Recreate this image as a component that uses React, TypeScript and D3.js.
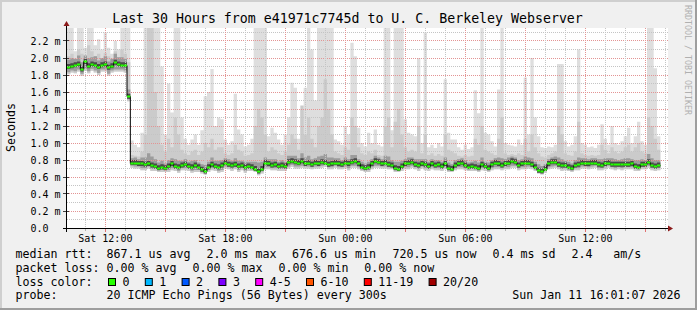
import React from "react";
import * as d3 from "d3";

const TITLE = "Last 30 Hours from e41971c7745d to U. C. Berkeley Webserver";
const WATERMARK = "RRDTOOL / TOBI OETIKER";
const Y_UNIT = "Seconds";

const START = Date.UTC(2026, 0, 10, 10, 5);
const END = Date.UTC(2026, 0, 11, 16, 5);
const STEP_MS = 10 * 60 * 1000;

// median rtt (ms), one value per 10 minutes
const median = [
  1.90, 1.91, 1.92, 1.93, 1.87, 1.96, 1.91, 1.93, 1.92, 1.90, 1.92, 1.93, 1.89, 1.91, 1.95, 1.93, 1.92, 1.92, 1.55,
  0.77, 0.77, 0.76, 0.76, 0.75, 0.76, 0.74, 0.73, 0.71, 0.72, 0.71, 0.73, 0.76, 0.73, 0.72, 0.74, 0.75, 0.73, 0.72, 0.74, 0.72, 0.69, 0.67, 0.72, 0.75, 0.73, 0.72,
  0.74, 0.77, 0.75, 0.74, 0.75, 0.73, 0.74, 0.72, 0.73, 0.72, 0.70, 0.67, 0.70, 0.77, 0.76, 0.74, 0.75, 0.73, 0.74, 0.73, 0.78, 0.79, 0.78, 0.77, 0.79, 0.76, 0.77, 0.75, 0.77, 0.76, 0.78, 0.77, 0.75, 0.76, 0.77, 0.76, 0.75, 0.77, 0.76, 0.78, 0.79, 0.76, 0.72, 0.71, 0.72,
  0.76, 0.79, 0.78, 0.76, 0.77, 0.75, 0.74, 0.71, 0.70, 0.73, 0.76, 0.77, 0.78, 0.75, 0.74, 0.76, 0.75, 0.73, 0.76, 0.74, 0.75, 0.73, 0.76, 0.71, 0.70, 0.74, 0.76, 0.77, 0.74, 0.72, 0.73, 0.72, 0.71, 0.75, 0.73, 0.71, 0.75, 0.77, 0.76, 0.74, 0.76, 0.77, 0.79, 0.78, 0.74,
  0.76, 0.77, 0.77, 0.75, 0.72, 0.68, 0.67, 0.70, 0.76, 0.78, 0.78, 0.75, 0.74, 0.74, 0.72, 0.71, 0.74, 0.75, 0.77, 0.76, 0.76, 0.77, 0.77, 0.75, 0.74, 0.76, 0.77, 0.75, 0.75, 0.75, 0.75, 0.75, 0.75, 0.76, 0.73, 0.72, 0.75, 0.75, 0.78, 0.74, 0.73, 0.74,
];

// slowest ping of each round (ms)
const pingMax = [
  2.40, 2.40, 2.08, 2.40, 2.40, 2.12, 2.40, 2.40, 2.15, 2.22, 2.10, 2.30, 2.12, 2.05, 2.20, 2.10, 2.40, 2.40, 2.40,
  1.03, 0.98, 0.95, 1.12, 2.40, 2.40, 2.40, 2.40, 2.40, 1.90, 1.10, 1.70, 1.36, 2.40, 2.40, 1.30, 1.05, 0.98, 1.04, 1.10, 0.98, 1.15, 1.55, 1.60, 1.87, 1.20, 1.30,
  1.28, 1.04, 0.98, 1.02, 1.58, 1.16, 1.10, 0.96, 0.98, 1.05, 2.40, 2.40, 2.40, 2.40, 1.08, 1.18, 1.12, 1.04, 0.98, 1.10, 1.30, 1.71, 1.65, 1.05, 1.40, 1.65, 2.40, 2.10, 1.50, 2.40, 2.40, 2.40, 2.40, 2.40, 1.04, 1.02, 0.98, 1.20, 1.10, 2.18, 2.02, 1.18, 1.00, 0.96, 1.12,
  1.00, 1.16, 0.98, 0.96, 2.40, 2.40, 1.15, 2.40, 2.40, 2.40, 1.28, 1.12, 1.10, 1.08, 2.00, 1.00, 2.30, 0.95, 0.98, 0.94, 1.00, 0.96, 1.75, 1.12, 1.04, 1.04, 0.95, 0.92, 0.98, 0.93, 0.95, 1.62, 1.35, 2.40, 1.12, 1.10, 1.02, 0.96, 1.63, 2.40, 1.00, 0.98, 0.97, 0.96, 1.04,
  0.98, 1.77, 1.10, 2.00, 1.30, 1.08, 0.95, 0.94, 0.96, 0.95, 0.98, 1.93, 1.93, 1.02, 0.96, 0.98, 1.08, 2.10, 1.00, 0.98, 0.95, 0.96, 0.94, 0.98, 1.22, 1.05, 0.98, 1.20, 1.00, 0.98, 1.02, 1.08, 1.18, 1.00, 1.08, 1.25, 1.02, 0.98, 2.40, 2.40, 1.88, 1.08,
];

// 18th of 20 pings (ms)
const pingHigh = [
  2.02, 2.05, 1.98, 2.10, 2.05, 2.00, 2.15, 2.08, 2.02, 2.05, 2.00, 2.06, 2.02, 1.98, 2.08, 2.00, 2.10, 2.05, 1.95,
  0.86, 0.85, 0.84, 0.90, 1.10, 2.40, 2.40, 1.60, 1.20, 0.98, 0.90, 1.05, 0.95, 1.30, 1.10, 0.92, 0.88, 0.86, 0.90, 0.92, 0.86, 0.90, 1.00, 0.95, 1.05, 0.92, 0.95,
  0.95, 0.88, 0.86, 0.88, 0.98, 0.92, 0.90, 0.85, 0.86, 0.88, 1.20, 1.40, 1.30, 1.10, 0.90, 0.95, 0.92, 0.88, 0.86, 0.90, 0.98, 1.10, 1.05, 0.92, 1.44, 1.10, 1.30, 1.05, 0.95, 1.20, 1.30, 1.75, 1.40, 1.10, 0.90, 0.88, 0.86, 0.95, 0.92, 1.30, 1.20, 0.95, 0.88, 0.86, 0.90,
  0.88, 0.92, 0.86, 0.85, 1.20, 1.30, 0.95, 1.25, 1.40, 1.10, 0.95, 0.90, 0.92, 0.90, 1.20, 0.88, 1.10, 0.86, 0.88, 0.85, 0.87, 0.85, 1.10, 0.92, 0.90, 0.88, 0.85, 0.84, 0.86, 0.84, 0.85, 1.05, 0.98, 1.20, 0.92, 0.90, 0.88, 0.86, 1.05, 1.30, 0.88, 0.86, 0.87, 0.86, 0.88,
  0.86, 1.05, 0.90, 1.10, 0.95, 0.88, 0.84, 0.83, 0.86, 0.88, 0.90, 1.20, 1.10, 0.88, 0.86, 0.85, 0.90, 1.25, 0.88, 0.86, 0.85, 0.86, 0.85, 0.86, 0.98, 0.92, 0.88, 0.95, 0.90, 0.88, 0.90, 0.95, 0.98, 0.90, 0.95, 1.00, 0.90, 0.88, 1.30, 1.20, 1.05, 0.92,
];

// spread of the dense smoke above the median (ms)
const darkAbove = [
  0.08, 0.09, 0.07, 0.10, 0.08, 0.07, 0.09, 0.08, 0.10, 0.07, 0.08, 0.09, 0.07, 0.08, 0.10, 0.08, 0.09, 0.07, 0.08,
  0.05, 0.06, 0.05, 0.07, 0.08, 0.12, 0.10, 0.08, 0.06, 0.07,
  0.05, 0.07, 0.06, 0.08, 0.07, 0.05, 0.06, 0.05, 0.07, 0.06,
  0.05, 0.06, 0.07, 0.06, 0.08, 0.06, 0.07, 0.06, 0.05, 0.06,
  0.05, 0.07, 0.06, 0.05, 0.06, 0.05, 0.06, 0.08, 0.10, 0.08,
  0.06, 0.05, 0.07, 0.06, 0.05, 0.06, 0.05, 0.07, 0.06, 0.07,
  0.05, 0.09, 0.07, 0.08, 0.06, 0.05, 0.08, 0.07, 0.10, 0.08,
  0.07, 0.05, 0.06, 0.05, 0.06, 0.05, 0.08, 0.07, 0.05, 0.06,
  0.05, 0.06, 0.05, 0.06, 0.05, 0.05, 0.08, 0.09, 0.06, 0.07,
  0.08, 0.06, 0.05, 0.06, 0.05, 0.06, 0.07, 0.05, 0.06, 0.05,
  0.05, 0.06, 0.05, 0.05, 0.07, 0.06, 0.05, 0.06, 0.05, 0.05,
  0.06, 0.05, 0.05, 0.07, 0.06, 0.08, 0.05, 0.06, 0.05, 0.05,
  0.07, 0.08, 0.05, 0.06, 0.05, 0.05, 0.06, 0.05, 0.07, 0.06,
  0.07, 0.06, 0.07, 0.06, 0.05, 0.05, 0.05, 0.06, 0.08, 0.07,
  0.05, 0.06, 0.05, 0.06, 0.08, 0.05, 0.06, 0.05, 0.05, 0.05,
  0.06, 0.07, 0.06, 0.05, 0.07, 0.06, 0.05, 0.06, 0.07, 0.07,
  0.05, 0.07, 0.08, 0.06, 0.05, 0.09, 0.08, 0.07, 0.06,
];

// distance from the median down to the fastest ping (ms)
const smokeBelow = [
  0.09, 0.08, 0.10, 0.09, 0.08, 0.11, 0.09, 0.08, 0.09, 0.10, 0.08, 0.09, 0.10, 0.08, 0.11, 0.09, 0.08, 0.09, 0.06,
  0.06, 0.07, 0.06, 0.08, 0.07, 0.06, 0.07, 0.06, 0.05, 0.06,
  0.05, 0.07, 0.08, 0.06, 0.07, 0.06, 0.07, 0.06, 0.07, 0.08,
  0.06, 0.05, 0.04, 0.06, 0.07, 0.06, 0.07, 0.08, 0.07, 0.06,
  0.07, 0.06, 0.07, 0.06, 0.07, 0.06, 0.05, 0.04, 0.05, 0.06,
  0.08, 0.07, 0.06, 0.07, 0.06, 0.07, 0.06, 0.08, 0.07, 0.08,
  0.07, 0.08, 0.06, 0.07, 0.06, 0.07, 0.06, 0.07, 0.05, 0.06,
  0.07, 0.06, 0.07, 0.06, 0.07, 0.08, 0.07, 0.08, 0.07, 0.05,
  0.05, 0.06, 0.07, 0.08, 0.07, 0.06, 0.07, 0.06, 0.05, 0.05,
  0.04, 0.06, 0.07, 0.08, 0.07, 0.06, 0.07, 0.06, 0.07, 0.06,
  0.07, 0.06, 0.07, 0.06, 0.07, 0.05, 0.04, 0.06, 0.07, 0.08,
  0.06, 0.05, 0.06, 0.05, 0.05, 0.07, 0.06, 0.05, 0.07, 0.08,
  0.07, 0.06, 0.07, 0.08, 0.08, 0.07, 0.06, 0.07, 0.08, 0.07,
  0.06, 0.05, 0.04, 0.04, 0.05, 0.07, 0.08, 0.07, 0.06, 0.07,
  0.06, 0.05, 0.05, 0.06, 0.07, 0.07, 0.06, 0.07, 0.07, 0.06,
  0.07, 0.06, 0.07, 0.06, 0.06, 0.07, 0.06, 0.07, 0.06, 0.06,
  0.07, 0.06, 0.05, 0.06, 0.06, 0.07, 0.06, 0.06, 0.06,
];

const rttLabel = "median rtt:";
const rttItems = ["867.1 us avg", "2.0 ms max", "676.6 us min", "720.5 us now", "0.4 ms sd", "2.4", "am/s"];
const lossLabel = "packet loss:";
const lossItems = ["0.00 % avg", "0.00 % max", "0.00 % min", "0.00 % now"];
const colorLabel = "loss color:";
const lossLevels = ["0", "1", "2", "3", "4-5", "6-10", "11-19", "20/20"];
const lossColors = ["#26ff00", "#00b8ff", "#0059ff", "#7e00ff", "#ff00ff", "#ff5500", "#ff0000", "#a10000"];
const probeLabel = "probe:";
const probeText = "20 ICMP Echo Pings (56 Bytes) every 300s";
const stampText = "Sun Jan 11 16:01:07 2026";

const FONT = "'DejaVu Sans Mono', monospace";

export default function App() {
  const W = 697, H = 310;
  const L = 67, R = 667, T = 28, B = 228;
  const x = d3.scaleUtc().domain([new Date(START), new Date(END)]).range([L, R]);
  const y = d3.scaleLinear().domain([0, (B - T) / 85]).range([B, T]);
  const n = median.length;
  const idx = d3.range(n + 1);
  const at = (a: number[], i: number) => a[Math.min(i, n - 1)];
  const xs = (i: number) => x(new Date(START + i * STEP_MS));
  const lowV = (i: number) => at(median, i) - at(smokeBelow, i);
  const mk = (y0: (i: number) => number, y1: (i: number) => number) =>
    d3.area<number>().x(xs).y0(y0).y1(y1).curve(d3.curveStepAfter)(idx) as string;

  const lightPath = mk((i) => y(lowV(i)), (i) => y(at(pingMax, i)));
  const midPath = mk((i) => y(lowV(i)), (i) => y(at(pingHigh, i)));
  const darkPath = mk((i) => y(lowV(i)) - 2, (i) => y(at(median, i) + at(darkAbove, i)));
  const corePath = mk((i) => y(at(median, i)) + 2.5, (i) => y(at(median, i)) - 2.5);
  const medLine = d3.line<number>().x(xs).y((i) => Math.round(y(at(median, i))) + 0.5).curve(d3.curveStepAfter)(idx) as string;

  const hours = x.ticks(d3.utcHour.every(1) as any);
  const fmt = d3.utcFormat("%a %H:%M");
  const px = (v: number) => Math.floor(v) + 0.5;
  const tenths = d3.range(1, 24);
  const yLabels = d3.range(0, 23, 2);

  const legendY = [258.3, 272, 285.7, 299.3];
  const rttX = [106.5, 206.5, 292, 392.5, 492.5, 571.5, 613.3];
  const lossX = [106.5, 192.5, 278.5, 364.2];
  const CH = 7.0;
  let cursor = 108;
  const boxes = lossLevels.map((lab, i) => {
    const bx = cursor;
    const tx = cursor + 14.5;
    cursor = tx + lab.length * CH + 15.3;
    return { lab, col: lossColors[i], bx, tx };
  });

  return (
    <svg width={W} height={H} style={{ position: "absolute", left: 0, top: 0 }} xmlns="http://www.w3.org/2000/svg">
      <defs>
        <clipPath id="cv"><rect x={L} y={T} width={R - L + 1} height={B - T} /></clipPath>
      </defs>
      <rect x={0} y={0} width={W} height={H} fill="#f0f0f0" />
      <rect x={0} y={0} width={W} height={2} fill="#cfcfcf" />
      <rect x={0} y={0} width={2} height={H} fill="#cfcfcf" />
      <rect x={0} y={H - 2} width={W} height={2} fill="#9e9e9e" />
      <rect x={W - 2} y={0} width={2} height={H} fill="#9e9e9e" />
      <rect x={L} y={T} width={R - L + 1} height={B - T} fill="#ffffff" />

      <text x={347.5} y={23.3} fontFamily={FONT} fontSize={13.25} fill="#000" textAnchor="middle">{TITLE}</text>
      <text transform="translate(684.5,5) rotate(90)" fontFamily={FONT} fontSize={8.3} fill="#b0b0b0">{WATERMARK}</text>
      <text transform="translate(15,127.5) rotate(-90)" fontFamily={FONT} fontSize={11.6} fill="#000" textAnchor="middle">{Y_UNIT}</text>

      <g clipPath="url(#cv)">
        <path d={lightPath} fill="#dedede" />
        <path d={midPath} fill="#cbcbcb" />
        <path d={darkPath} fill="#9c9c9c" />
        <path d={corePath} fill="#4a4a4a" />
      </g>

      {tenths.map((k) => {
        const yy = px(y(k / 10));
        const major = k % 2 === 0;
        return (
          <line key={"h" + k} x1={L} x2={R + 1} y1={yy} y2={yy}
            stroke={major ? "#e39494" : "#c4c4c4"} strokeWidth={1} strokeDasharray="1,1" />
        );
      })}
      {hours.map((h, i) => {
        const xx = px(x(h));
        const major = h.getUTCHours() % 3 === 0;
        return (
          <g key={"v" + i}>
            <line x1={xx} x2={xx} y1={T} y2={B} stroke={major ? "#e39494" : "#c4c4c4"} strokeWidth={1} strokeDasharray="1,1" />
            <line x1={xx} x2={xx} y1={B + 1} y2={B + (major ? 4 : 3)} stroke={major ? "#e07070" : "#b0b0b0"} strokeWidth={1} />
          </g>
        );
      })}
      {hours.filter((h) => h.getUTCHours() % 6 === 0).map((h, i) => (
        <text key={"xl" + i} x={x(h)} y={241.5} fontFamily={FONT} fontSize={10} textAnchor="middle" fill="#000">{fmt(h)}</text>
      ))}
      {yLabels.map((k) => (
        <g key={"yl" + k}>
          <text x={30.5} y={y(k / 10) + 3.6} fontFamily={FONT} fontSize={10} fill="#000">{k === 0 ? "0.0" : (k / 10).toFixed(1) + " m"}</text>
          <line x1={L - 4} x2={L + 2} y1={px(y(k / 10))} y2={px(y(k / 10))} stroke="#404040" strokeWidth={1} />
        </g>
      ))}

      <g clipPath="url(#cv)">
        <path d={medLine} fill="none" stroke="#000" strokeWidth={1} />
        {median.map((v, i) => (
          <line key={"g" + i} x1={xs(i)} x2={xs(i + 1)} y1={Math.round(y(v)) + 0.5} y2={Math.round(y(v)) + 0.5}
            stroke="#26ff00" strokeWidth={2} />
        ))}
      </g>

      <line x1={L - 4} x2={R + 1} y1={B + 0.5} y2={B + 0.5} stroke="#000" strokeWidth={1} />
      <line x1={L - 0.5} x2={L - 0.5} y1={T - 3} y2={B + 4} stroke="#000" strokeWidth={1} />
      <path d={`M${L - 0.5},${T - 7}L${L - 3.5},${T - 2}L${L + 2.5},${T - 2}Z`} fill="#8b1a1a" />
      <path d={`M${R + 6},${B + 0.5}L${R + 1},${B - 2.5}L${R + 1},${B + 3.5}Z`} fill="#8b1a1a" />

      <g fontFamily={FONT} fontSize={11.65} fill="#000">
        <text x={15.5} y={legendY[0]}>{rttLabel}</text>
        {rttItems.map((t, i) => <text key={"r" + i} x={rttX[i]} y={legendY[0]}>{t}</text>)}
        <text x={15.5} y={legendY[1]}>{lossLabel}</text>
        {lossItems.map((t, i) => <text key={"l" + i} x={lossX[i]} y={legendY[1]}>{t}</text>)}
        <text x={15.5} y={legendY[2]}>{colorLabel}</text>
        {boxes.map((b, i) => (
          <g key={"b" + i}>
            <rect x={b.bx + 0.5} y={278.5} width={7} height={7} fill={b.col} stroke="#000" strokeWidth={1} />
            <text x={b.tx} y={legendY[2]}>{b.lab}</text>
          </g>
        ))}
        <text x={15.5} y={legendY[3]}>{probeLabel}</text>
        <text x={106.5} y={legendY[3]}>{probeText}</text>
        <text x={680.5} y={legendY[3]} textAnchor="end">{stampText}</text>
      </g>
    </svg>
  );
}
